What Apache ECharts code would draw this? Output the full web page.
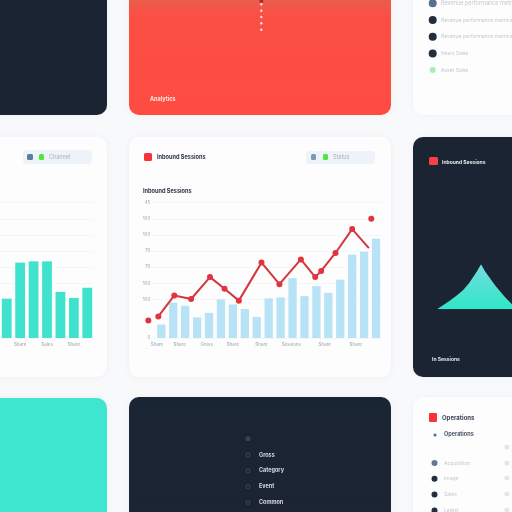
<!DOCTYPE html>
<html>
<head>
<meta charset="utf-8">
<style>
html, body { margin: 0; padding: 0; background: #f8f9fb; }
#chart { width: 512px; height: 512px; filter: blur(0.5px); }
</style>
<script src="https://cdn.jsdelivr.net/npm/echarts@6/dist/echarts.min.js"></script>
</head>
<body>
<div id="chart"></div>
<script>
// main card: bars
var barValues = [42, 110, 100, 64, 78, 120, 104, 90, 65, 123, 126, 186, 130, 161, 140, 181, 259, 268, 308];
// main card: red line, x is in bar-index units because points sit off the bars
var lineX = [-0.25, 1.09, 2.5, 4.08, 5.3, 6.5, 8.4, 9.9, 11.7, 12.9, 13.4, 14.6, 16, 17.4];
var lineValues = [67, 132, 121, 189, 153, 116, 234, 167, 244, 189, 208, 264, 338, 279];
var looseX = [-1.09, 17.6];
var looseValues = [54, 370];
var mainTicks = [0, 120, 170, 220, 270, 320, 370, 420];
var mainTickLabels = ['0', '100', '100', '70', '70', '100', '100', '45'];
var mainLabelX = [-0.36, 1.54, 3.8, 6.0, 8.4, 10.9, 13.7, 16.3];
var mainLabels = ['Share', 'Share', 'Gross', 'Share', 'Share', 'Sessions', 'Share', 'Share'];

// left card
var leftCats = ['', 'Share', '', 'Sales', '', 'Share', ''];
var leftValues = [122, 234, 238, 238, 143, 124, 156];

// right dark card
var peakX = [437, 449, 457, 463, 469, 473, 477, 481, 485, 490, 495, 500, 506, 512];
var peakValues = [0, 8, 14, 19, 26, 32, 38, 45, 38, 31, 24, 18, 11, 5];

// lists
var topRightList = ['Revenue performance metrics by', 'Revenue performance metrics by', 'News Sales', 'Asset Sales'];
var darkList = ['Gross', 'Category', 'Event', 'Common'];
var bottomRightList = ['Acquisition', 'Image', 'Sales', 'Latest'];

var DARK = '#1a2432', RED = '#ff4c42', TEAL = '#3fe6cf', WHITE = '#fdfdfe';

function card(x, y, w, h, fill) {
    return {
        type: 'rect', z: -10,
        shape: {x: x, y: y, width: w, height: h, r: 10},
        style: {fill: fill, shadowBlur: 6, shadowColor: 'rgba(40,60,90,0.05)'}
    };
}
function box(x, y, w, h, fill, r) {
    return {type: 'rect', z: -5, shape: {x: x, y: y, width: w, height: h, r: r || 1.5}, style: {fill: fill}};
}
function dot(x, y, r, fill) {
    return {type: 'circle', z: -5, shape: {cx: x, cy: y, r: r}, style: {fill: fill}};
}
function label(x, y, str, size, fill, weight) {
    return {
        type: 'text', z: -5, x: x, y: y,
        style: {text: str, fontSize: size, fontFamily: 'Inter', fontWeight: weight || 'normal', fill: fill, verticalAlign: 'middle'}
    };
}

var graphics = [
    card(-20, -20, 127, 135, DARK),
    card(129, -20, 262, 135, {
        type: 'linear', x: 0, y: 0, x2: 0, y2: 1,
        colorStops: [{offset: 0, color: '#e5604c'}, {offset: 0.15, color: '#ea5c4b'}, {offset: 0.27, color: '#fb4f44'}, {offset: 1, color: RED}]
    }),
    card(413, -20, 120, 135, WHITE),
    card(-20, 137, 127, 240, WHITE),
    card(129, 137, 262, 240, WHITE),
    card(413, 137, 120, 240, DARK),
    card(-20, 398, 127, 134, TEAL),
    card(129, 397, 262, 135, {
        type: 'linear', x: 0, y: 0, x2: 0, y2: 1,
        colorStops: [{offset: 0, color: '#1a2534'}, {offset: 0.8, color: '#1b2433'}, {offset: 1, color: '#2a2431'}]
    }),
    card(413, 397, 120, 135, WHITE),

    // red card
    dot(261.3, 1, 2, '#b3262a'),
    label(150, 99, 'Analytics', 5.5, '#ffe9e6', 'bold'),

    // main card header
    box(144, 153, 8, 8, '#f7333a'),
    label(157, 157, 'Inbound Sessions', 5.6, '#2c3542', 'bold'),
    box(306, 151, 69, 13, '#eef3fa', 4),
    box(311, 154, 5, 6, '#7d97b5'),
    box(323, 154, 5, 6, '#4ee63e'),
    label(333, 157.5, 'Status', 5.5, '#a9b4c0'),
    label(143, 191, 'Inbound Sessions', 5.6, '#2c3542', 'bold'),

    // left card header
    box(23, 150, 69, 14, '#eef3fa', 4),
    box(27, 154, 6, 6, '#5d7c9f'),
    box(39, 154, 5, 6, '#4ee63e'),
    label(49, 157, 'Channel', 5.5, '#a9b4c0'),

    // dark card header and footer
    box(429, 157, 9, 8, '#f7403f'),
    label(442, 162, 'Inbound Sessions', 5, '#e8ecf0', 'bold'),
    label(432, 359, 'In Sessions', 5, '#dfe4ea', 'bold'),

    // bottom right header
    box(429, 413, 8, 9, '#f7333a', 1),
    label(442, 418, 'Operations', 6, '#3a4350', 'bold'),
    dot(435, 435, 1.5, '#4a6f96'),
    label(444, 434, 'Operations', 5.5, '#4a5562', 'bold')
];

// red card dots
[4.3, 10.7, 17, 23.3, 29.7].forEach(function (y) {
    graphics.push(dot(261.3, y, 1.2, '#ffe0dc'));
});
// top right list
graphics.push(dot(432.7, 3.3, 4, '#56708f'));
graphics.push(label(441, 3.3, 'Revenue performance metrics by month', 5.5, '#c3cad2'));
topRightList.forEach(function (s, i) {
    var y = 20 + i * 16.7;
    graphics.push(dot(432.7, y, i == 3 ? 3 : 4, i == 3 ? '#a5eeb5' : '#232e3d'));
    graphics.push(label(441, y, s, 5, '#c3cad2'));
});
// dark list
graphics.push(dot(248, 438.7, 2.5, '#3a4553'));
darkList.forEach(function (s, i) {
    var y = 455 + i * 15.8;
    graphics.push({type: 'circle', z: -5, shape: {cx: 248, cy: y, r: 2}, style: {fill: 'none', stroke: '#475260', lineWidth: 0.8}});
    graphics.push(label(259, y, s, 5.5, '#d5dae0', 'bold'));
});
// bottom right list
bottomRightList.forEach(function (s, i) {
    var y = 463 + i * 15.8;
    graphics.push(dot(434.5, y, 3, i == 0 ? '#63788f' : '#232e3d'));
    graphics.push(label(444, y, s, 5, '#c3cad2'));
});
[447, 463, 478, 494, 510].forEach(function (y) {
    graphics.push({type: 'circle', z: -5, shape: {cx: 507, cy: y, r: 2.5}, style: {fill: '#e3e7ec'}});
});

var tickFont = {fontSize: 4.5, color: '#9aa5b1', fontFamily: 'Inter'};
var grid = {show: true, lineStyle: {color: '#f5f6f8', width: 1}};

var option = {
    animation: false,
    backgroundColor: '#f8f9fb',
    graphic: {elements: graphics},
    grid: [
        {left: 151.3, right: 130, top: 202.7, bottom: 174},
        {left: -5, right: 418, top: 202.7, bottom: 174},
        {left: 437, right: 0, top: 264.3, bottom: 202.7}
    ],
    xAxis: [
        {
            type: 'value', gridIndex: 0, min: -0.84, max: 18.5,
            axisLine: {show: false}, splitLine: {show: false},
            axisTick: {show: false, customValues: mainLabelX},
            axisLabel: Object.assign({
                customValues: mainLabelX, margin: 4, hideOverlap: false,
                formatter: function (v) { return mainLabels[mainLabelX.indexOf(v)]; }
            }, tickFont)
        },
        {
            type: 'category', gridIndex: 1, data: leftCats,
            axisLine: {show: false}, axisTick: {show: false},
            axisLabel: Object.assign({interval: 0, margin: 4}, tickFont)
        },
        {type: 'value', gridIndex: 2, min: 437, max: 512, show: false}
    ],
    yAxis: [
        {
            type: 'value', gridIndex: 0, min: 0, max: 420,
            axisLine: {show: false},
            axisTick: {show: false, customValues: mainTicks},
            splitLine: grid,
            axisLabel: Object.assign({
                customValues: mainTicks, margin: 1,
                formatter: function (v) { return mainTickLabels[mainTicks.indexOf(v)]; }
            }, tickFont)
        },
        {
            type: 'value', gridIndex: 1, min: 0, max: 420,
            axisLine: {show: false},
            axisTick: {show: false, customValues: mainTicks},
            axisLabel: {show: false},
            splitLine: grid
        },
        {type: 'value', gridIndex: 2, min: 0, max: 45, show: false}
    ],
    series: [
        {
            type: 'bar', xAxisIndex: 0, yAxisIndex: 0, barWidth: 8.3,
            itemStyle: {color: '#b8e2f6'},
            data: barValues.map(function (v, i) { return [i, v]; })
        },
        {
            type: 'line', xAxisIndex: 0, yAxisIndex: 0, clip: false, z: 4,
            symbol: 'circle', symbolSize: 6,
            lineStyle: {color: '#d2383c', width: 2},
            itemStyle: {color: '#e2343f'},
            data: lineValues.map(function (v, i) {
                var p = {value: [lineX[i], v]};
                if (i == lineValues.length - 1) p.symbolSize = 0;
                return p;
            })
        },
        {
            type: 'scatter', xAxisIndex: 0, yAxisIndex: 0, clip: false, z: 4,
            symbolSize: 6,
            itemStyle: {color: '#e2343f', opacity: 1},
            data: looseValues.map(function (v, i) { return [looseX[i], v]; })
        },
        {
            type: 'bar', xAxisIndex: 1, yAxisIndex: 1, barWidth: 9.8,
            itemStyle: {color: '#3fe3cd'},
            data: leftValues
        },
        {
            type: 'line', xAxisIndex: 2, yAxisIndex: 2, symbol: 'none',
            lineStyle: {width: 0},
            areaStyle: {
                opacity: 1,
                color: {
                    type: 'linear', x: 0, y: 0, x2: 0, y2: 1,
                    colorStops: [{offset: 0, color: '#74dcdc'}, {offset: 1, color: '#2fe8c8'}]
                }
            },
            data: peakValues.map(function (v, i) { return [peakX[i], v]; })
        }
    ]
};

var myChart = echarts.init(document.getElementById('chart'));
myChart.setOption(option);
</script>
</body>
</html>
